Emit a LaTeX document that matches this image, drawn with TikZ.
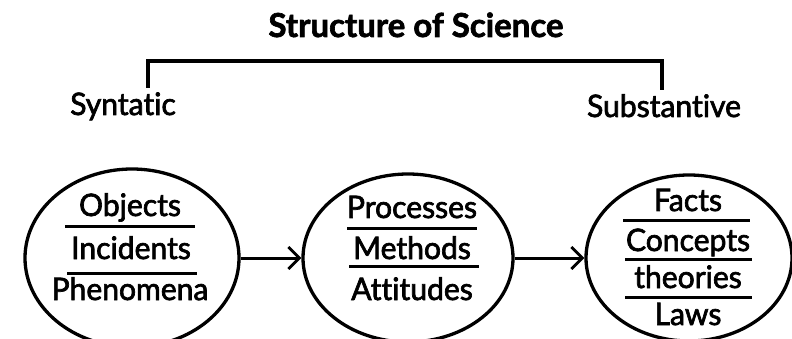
\documentclass[tikz,border=0pt]{standalone}
\usepackage{fontspec}
\setmainfont{Lato}[Ligatures={NoCommon,NoRare,NoContextual},FakeBold=2]
\newfontfamily\bodyfont{Lato}[Ligatures={NoCommon,NoRare,NoContextual},FakeStretch=0.97,FakeBold=2.2]
\usetikzlibrary{shapes.geometric,arrows.meta}
\begin{document}
\begin{tikzpicture}[x=1pt,y=-1pt,
  oval/.style={draw,line width=3.3pt,ellipse,inner sep=0pt},
  item/.style={inner sep=0pt,font=\fontsize{31}{31}\bodyfont,anchor=base},
  label/.style={inner sep=0pt,font=\fontsize{31}{31}\bodyfont,anchor=base},
  rule/.style={line width=3pt},
  conn/.style={line width=3pt,-{Straight Barb[length=11pt,width=22pt,line width=2.8pt]}},
  bracket/.style={line width=3.2pt}]
\useasboundingbox (0,0) rectangle (792,339);
% title and bracket
\node[inner sep=0pt,font=\fontsize{33}{33}\selectfont\bfseries,anchor=base] (title) at (416,37) {Structure of Science};
\coordinate (bl) at (148,88);
\coordinate (br) at (662,90);
\draw[bracket] (bl) -- (148,61) -- (662,61) -- (br);
\node[label] (syn) at (123,115) {Syntatic};
\node[label] (sub) at (664,117) {Substantive};
% ellipses
\node[oval,minimum width=214pt,minimum height=178pt] (e1) at (132,258) {};
\node[oval,minimum width=210pt,minimum height=168pt] (e2) at (408,258) {};
\node[oval,minimum width=206pt,minimum height=166pt] (e3) at (689,258) {};
% left texts
\node[item] (t11) at (130,216) {Objects};
\node[item] (t12) at (131,259) {Incidents};
\node[item] (t13) at (130,300) {Phenomena};
\draw[rule] (65,226) -- (195,226);
\draw[rule] (67,273) -- (197,273);
% middle texts
\node[item] (t21) at (412,218) {Processes};
\node[item] (t22) at (412,259) {Methods};
\node[item] (t23) at (412,300) {Attitudes};
\draw[rule] (347,228) -- (477,228);
\draw[rule] (349,266) -- (479,266);
% right texts
\node[item] (t31) at (688,211) {Facts};
\node[item] (t32) at (688,251) {Concepts};
\node[item] (t33) at (688,288) {theories};
\node[item] (t34) at (688,325) {Laws};
\draw[rule] (623,220) -- (750,220);
\draw[rule] (625,259) -- (752,259);
\draw[rule] (625,297) -- (752,297);
% connectors
\draw[conn] (e1.east) -- (e2.west);
\draw[conn] (e2.east) -- (e3.west);
\end{tikzpicture}
\end{document}
